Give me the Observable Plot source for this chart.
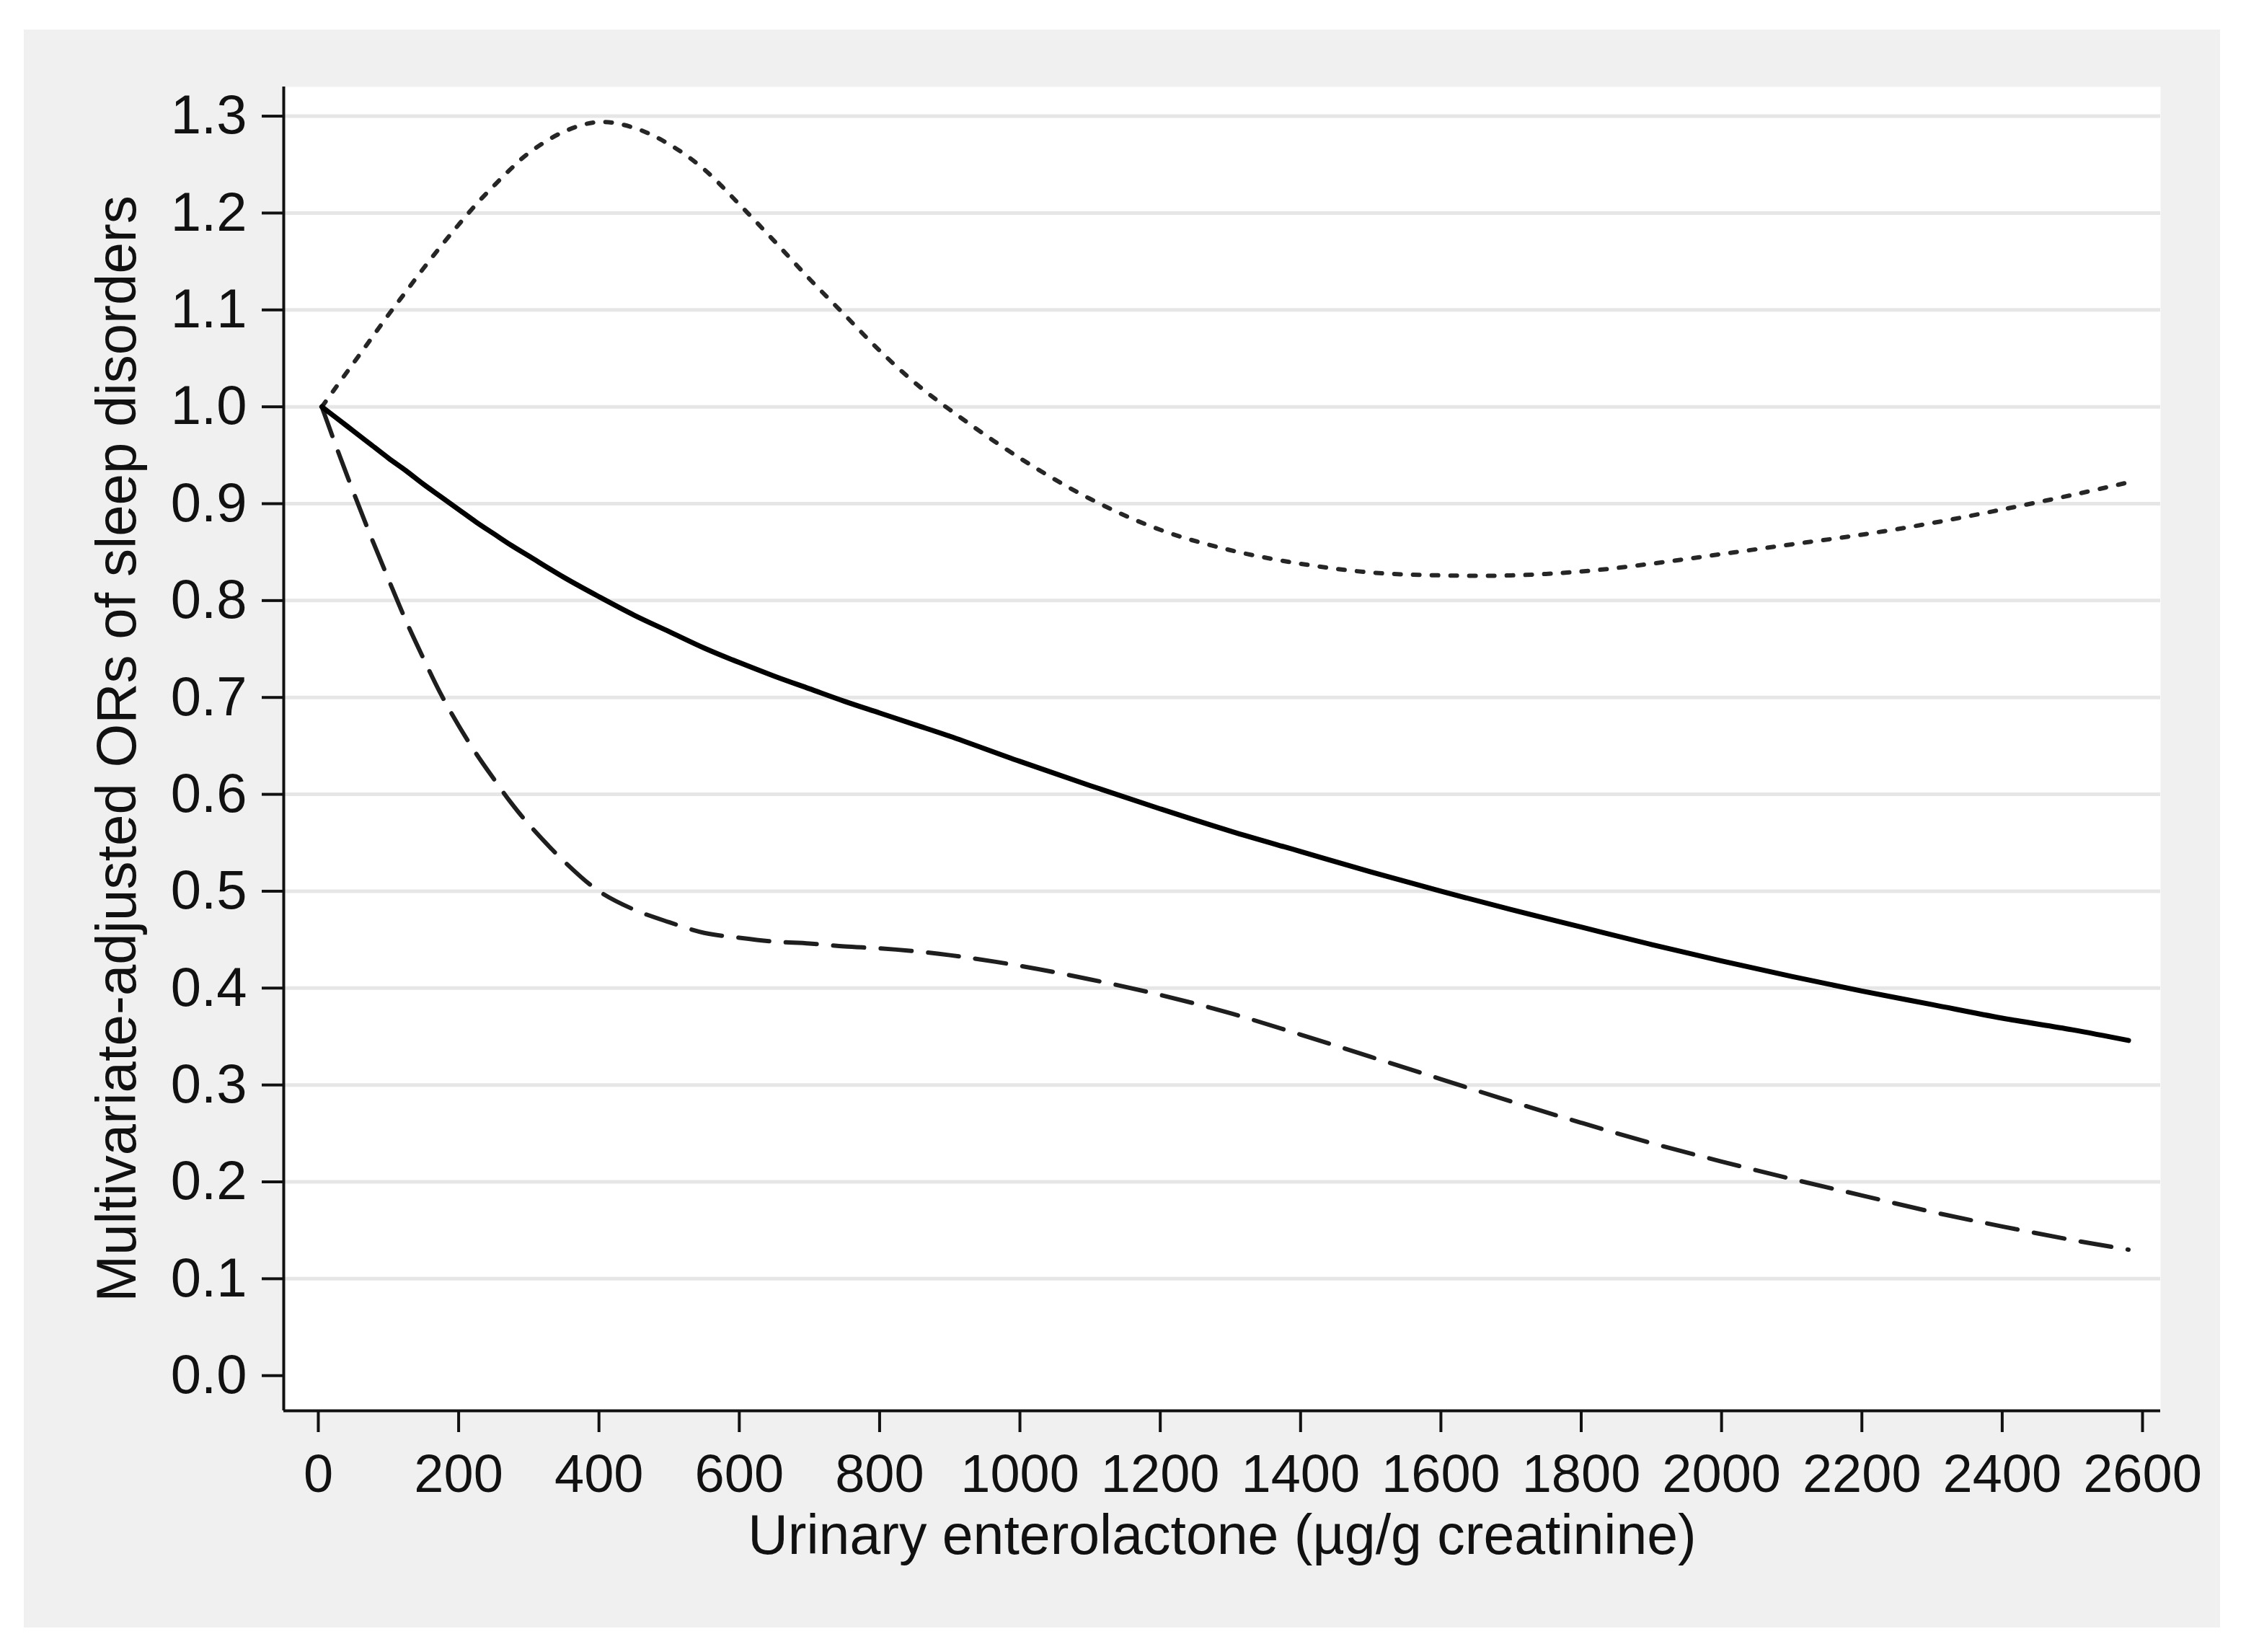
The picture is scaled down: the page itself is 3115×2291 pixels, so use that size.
<!DOCTYPE html>
<html>
<head>
<meta charset="utf-8">
<script src="https://cdn.jsdelivr.net/npm/d3@7"></script>
<script src="https://cdn.jsdelivr.net/npm/@observablehq/plot@0.6"></script>
<style>
  html, body { margin: 0; padding: 0; background: #ffffff; }
  #chart { position: absolute; left: 33px; top: 41px; }
</style>
</head>
<body>
<div id="chart"></div>
<script>
// Urinary enterolactone (µg/g creatinine)
const xValues = [5, 25, 50, 75, 100, 125, 150, 175, 200, 225, 250, 275, 300, 350, 400, 450, 500, 550, 600, 650, 700, 750, 800, 850, 900, 1000, 1100, 1200, 1300, 1400, 1500, 1600, 1700, 1800, 1900, 2000, 2100, 2200, 2300, 2400, 2500, 2580];
// Multivariate-adjusted OR (solid line)
const orEstimate = [1.000, 0.989, 0.975, 0.961, 0.947, 0.934, 0.920, 0.907, 0.894, 0.881, 0.869, 0.857, 0.846, 0.824, 0.804, 0.785, 0.768, 0.751, 0.736, 0.722, 0.709, 0.696, 0.684, 0.672, 0.660, 0.634, 0.609, 0.585, 0.562, 0.541, 0.520, 0.500, 0.481, 0.463, 0.445, 0.428, 0.412, 0.397, 0.383, 0.369, 0.357, 0.346];
// Upper 95% CI (dotted line)
const upperCI = [1.000, 1.020, 1.045, 1.070, 1.095, 1.119, 1.143, 1.166, 1.188, 1.209, 1.228, 1.246, 1.262, 1.284, 1.294, 1.288, 1.271, 1.245, 1.209, 1.171, 1.132, 1.095, 1.058, 1.025, 0.997, 0.947, 0.905, 0.873, 0.852, 0.838, 0.829, 0.826, 0.826, 0.830, 0.838, 0.848, 0.858, 0.868, 0.880, 0.894, 0.909, 0.922];
// Lower 95% CI (dashed line)
const lowerCI = [1.000, 0.960, 0.912, 0.866, 0.822, 0.779, 0.740, 0.703, 0.671, 0.642, 0.616, 0.591, 0.569, 0.531, 0.500, 0.481, 0.468, 0.457, 0.452, 0.448, 0.446, 0.443, 0.441, 0.438, 0.434, 0.423, 0.409, 0.393, 0.374, 0.352, 0.329, 0.306, 0.283, 0.261, 0.240, 0.221, 0.203, 0.186, 0.169, 0.154, 0.140, 0.130];

const xTicks = [0, 200, 400, 600, 800, 1000, 1200, 1400, 1600, 1800, 2000, 2200, 2400, 2600];
const yTicks = [0.0, 0.1, 0.2, 0.3, 0.4, 0.5, 0.6, 0.7, 0.8, 0.9, 1.0, 1.1, 1.2, 1.3];
const gridTicks = yTicks.filter(d => d > 0);

const xLabel = "Urinary enterolactone (µg/g creatinine)";
const yLabel = "Multivariate-adjusted ORs of sleep disorders";

const xDomain = [-49.3, 2625.7];
const yDomain = [-0.0363, 1.3302];

const est = xValues.map((x, i) => ({x, y: orEstimate[i]}));
const upper = xValues.map((x, i) => ({x, y: upperCI[i]}));
const lower = xValues.map((x, i) => ({x, y: lowerCI[i]}));

const chart = Plot.plot({
  width: 3046,
  height: 2216,
  marginLeft: 360,
  marginRight: 83,
  marginTop: 79,
  marginBottom: 301,
  style: {
    background: "#f0f0f0",
    fontFamily: "'Liberation Sans', Arial, sans-serif",
    color: "#111111",
    overflow: "visible"
  },
  x: {domain: xDomain},
  y: {domain: yDomain},
  marks: [
    Plot.frame({fill: "white", stroke: "none"}),
    Plot.gridY(gridTicks, {stroke: "#e6e6e6", strokeOpacity: 1, strokeWidth: 5}),
    Plot.line(upper, {x: "x", y: "y", curve: "catmull-rom", stroke: "#262626", strokeWidth: 6, strokeDasharray: "9,17"}),
    Plot.line(lower, {x: "x", y: "y", curve: "catmull-rom", stroke: "#1e1e1e", strokeWidth: 6, strokeDasharray: "43,23"}),
    Plot.line(est, {x: "x", y: "y", curve: "catmull-rom", stroke: "#000000", strokeWidth: 7}),
    Plot.ruleX([xDomain[0]], {stroke: "#111111", strokeWidth: 4}),
    Plot.ruleY([yDomain[0]], {stroke: "#111111", strokeWidth: 4}),
    Plot.axisX(xTicks, {tickSize: 30, tickPadding: 30, strokeWidth: 4, fontSize: 74, label: null, tickFormat: d => String(d)}),
    Plot.axisY(yTicks, {tickSize: 30, tickPadding: 21, strokeWidth: 4, fontSize: 76, label: null, tickFormat: d => d.toFixed(1)}),
    Plot.text([xLabel], {frameAnchor: "bottom", lineAnchor: "middle", textAnchor: "middle", dy: 174, fontSize: 77, text: d => d}),
    Plot.text([yLabel], {frameAnchor: "left", lineAnchor: "middle", textAnchor: "middle", dx: -230, rotate: -90, fontSize: 78, text: d => d})
  ]
});
document.getElementById("chart").appendChild(chart);
</script>
</body>
</html>
